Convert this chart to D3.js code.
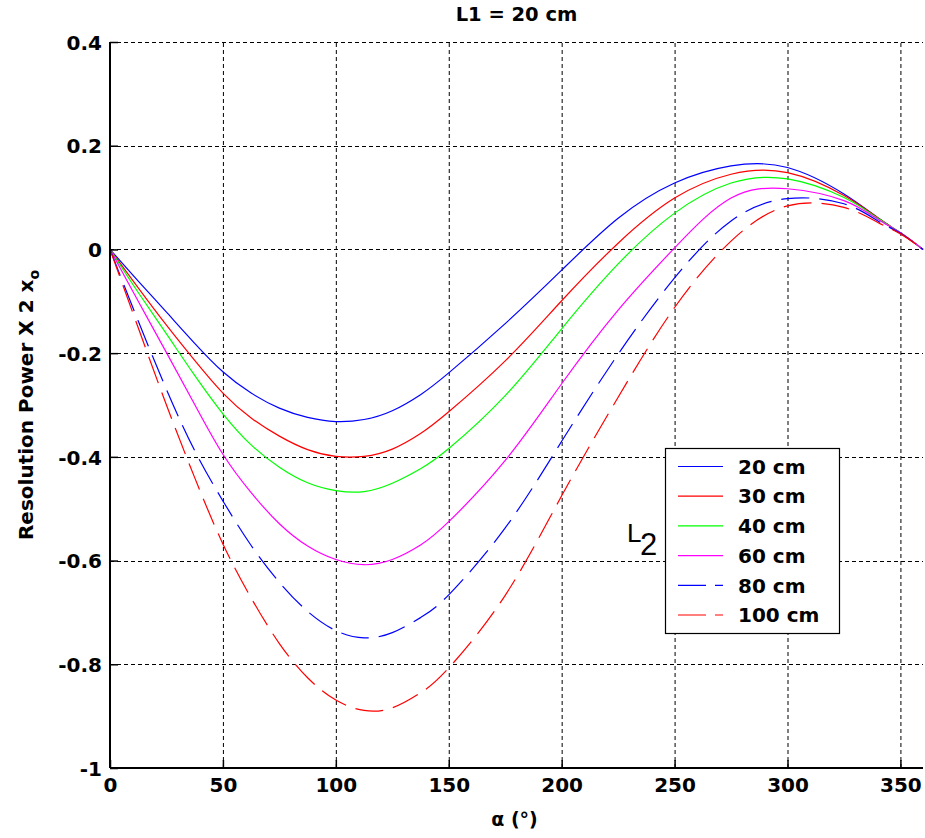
<!DOCTYPE html>
<html>
<head>
<meta charset="utf-8">
<script src="https://cdn.jsdelivr.net/npm/d3@7"></script>
<style>
  html, body { margin: 0; padding: 0; background: #fff; }
  svg { display: block; }
  text { font-family: "DejaVu Sans", "Liberation Sans", sans-serif; font-weight: bold; fill: #000; }
</style>
</head>
<body>
<svg id="chart" width="925" height="838"></svg>
<script>
// Angle samples (degrees) and resolution power for each L2 length
const alphaDeg = [0, 12.5, 25, 37.5, 50, 62.5, 75, 87.5, 100, 112.5, 125, 137.5, 150, 175, 200, 225, 250, 275, 300, 325, 340, 350, 360];
const res20cm  = [0, -0.061, -0.121, -0.181, -0.236, -0.277, -0.306, -0.324, -0.332, -0.328, -0.311, -0.280, -0.238, -0.143, -0.040, 0.060, 0.128, 0.161, 0.158, 0.107, 0.061, 0.032, 0];
const res30cm  = [0, -0.074, -0.146, -0.214, -0.277, -0.325, -0.360, -0.386, -0.399, -0.399, -0.385, -0.355, -0.313, -0.215, -0.099, 0.012, 0.099, 0.145, 0.148, 0.104, 0.061, 0.032, 0];
const res40cm  = [0, -0.083, -0.163, -0.243, -0.317, -0.377, -0.420, -0.450, -0.465, -0.467, -0.451, -0.423, -0.384, -0.282, -0.153, -0.028, 0.070, 0.128, 0.136, 0.100, 0.060, 0.032, 0];
const res60cm  = [0, -0.100, -0.199, -0.299, -0.395, -0.469, -0.529, -0.572, -0.598, -0.608, -0.598, -0.570, -0.525, -0.407, -0.259, -0.117, 0.003, 0.099, 0.117, 0.094, 0.058, 0.032, 0];
const res80cm  = [0, -0.138, -0.270, -0.388, -0.485, -0.571, -0.642, -0.698, -0.735, -0.749, -0.739, -0.710, -0.666, -0.537, -0.370, -0.202, -0.055, 0.055, 0.098, 0.088, 0.055, 0.031, 0];
const res100cm = [0, -0.151, -0.300, -0.440, -0.568, -0.672, -0.760, -0.826, -0.869, -0.889, -0.884, -0.855, -0.807, -0.667, -0.475, -0.285, -0.112, 0.016, 0.084, 0.081, 0.052, 0.030, 0];

const seriesLabels = ["20 cm", "30 cm", "40 cm", "60 cm", "80 cm", "100 cm"];
const seriesValues = [res20cm, res30cm, res40cm, res60cm, res80cm, res100cm];
const seriesColors = ["#0000ff", "#ff0000", "#00ff00", "#ff00ff", "#0000ff", "#ff0000"];
const seriesDashed = [false, false, false, false, true, true];

const xTicks = [0, 50, 100, 150, 200, 250, 300, 350];
const yTicks = [-1, -0.8, -0.6, -0.4, -0.2, 0, 0.2, 0.4];
const yTickLabels = ["-1", "-0.8", "-0.6", "-0.4", "-0.2", "0", "0.2", "0.4"];

const titleText = "L1 = 20 cm";
const xLabel = "\u03b1 (\u00b0)";

const svg = d3.select("#chart");
const plot = { left: 110, right: 923, top: 42, bottom: 768 };

const x = d3.scaleLinear().domain([0, 360]).range([plot.left, plot.right]);
const y = d3.scaleLinear().domain([-1, 0.4]).range([plot.bottom, plot.top]);

// dotted grid
const grid = svg.append("g").attr("stroke", "#000").attr("stroke-width", 1).attr("stroke-dasharray", "4,3");
grid.selectAll("line.gx").data(xTicks.filter(t => t > 0)).join("line")
  .attr("x1", d => x(d) + 0.5).attr("x2", d => x(d) + 0.5)
  .attr("y1", plot.bottom).attr("y2", plot.top);
grid.selectAll("line.gy").data(yTicks.filter(t => t > -1)).join("line")
  .attr("y1", d => Math.round(y(d)) + 0.5).attr("y2", d => Math.round(y(d)) + 0.5)
  .attr("x1", plot.left).attr("x2", plot.right);

// curves
const line = d3.line()
  .x(d => x(d[0]))
  .y(d => y(d[1]))
  .curve(d3.curveNatural);

seriesValues.forEach((vals, i) => {
  const pts = alphaDeg.map((a, j) => [a, vals[j]]);
  svg.append("path")
    .datum(pts)
    .attr("fill", "none")
    .attr("stroke", seriesColors[i])
    .attr("stroke-width", 1.2)
    .attr("stroke-dasharray", seriesDashed[i] ? "28,10" : null)
    .attr("d", line);
});

// axes with inward ticks
const xAxis = d3.axisBottom(x).tickValues(xTicks).tickSizeInner(-8).tickSizeOuter(0).tickFormat(d3.format("d"));
const yAxis = d3.axisLeft(y).tickValues(yTicks).tickSizeInner(-8).tickSizeOuter(0)
  .tickFormat((d, i) => yTickLabels[i]);

const gx = svg.append("g").attr("transform", `translate(0,${plot.bottom})`).call(xAxis);
const gy = svg.append("g").attr("transform", `translate(${plot.left},0)`).call(yAxis);
[gx, gy].forEach(g => {
  g.select(".domain").attr("stroke", "#000").attr("stroke-width", 2);
  g.selectAll(".tick line").attr("stroke", "#000").attr("stroke-width", 1.5);
  g.selectAll(".tick text").style("font-family", "DejaVu Sans").style("font-weight", "bold").style("font-size", "20px").attr("fill", "#000");
});
gx.select(".domain").attr("d", `M${plot.left},0H${plot.right}`);
gy.select(".domain").attr("d", `M0,${plot.bottom}V${plot.top}`);
gy.selectAll(".tick text").attr("x", -8).attr("dy", "0.36em");
gx.selectAll(".tick text").attr("y", 9).attr("dy", "0.73em");

// titles
svg.append("text").attr("x", (plot.left + plot.right) / 2).attr("y", 21)
  .attr("text-anchor", "middle").style("font-size", "19.5px").text(titleText);

svg.append("text").attr("x", (plot.left + plot.right) / 2 - 2).attr("y", 826)
  .attr("text-anchor", "middle").style("font-size", "19px").text(xLabel);

const yl = svg.append("text")
  .attr("transform", `translate(33,${(plot.top + plot.bottom) / 2}) rotate(-90)`)
  .attr("text-anchor", "middle").style("font-size", "20px");
yl.append("tspan").text("Resolution Power X 2 x");
yl.append("tspan").attr("dy", 6).style("font-size", "14px").text("o");

// L2 annotation
const ann = svg.append("g");
ann.append("text").attr("x", 627).attr("y", 542).style("font-size", "26px").style("font-weight", "normal").style("font-family", "Liberation Sans").text("L");
ann.append("text").attr("x", 640).attr("y", 555).style("font-size", "31px").style("font-weight", "normal").style("font-family", "Liberation Sans").text("2");

// legend
const legend = svg.append("g");
legend.append("rect").attr("x", 665.5).attr("y", 448.5).attr("width", 174).attr("height", 185)
  .attr("fill", "#fff").attr("stroke", "#000").attr("stroke-width", 1.2);
seriesLabels.forEach((lab, i) => {
  const cy = 466.5 + i * 29.7;
  legend.append("line").attr("x1", 678).attr("x2", 723).attr("y1", cy).attr("y2", cy)
    .attr("stroke", seriesColors[i]).attr("stroke-width", 1.2)
    .attr("stroke-dasharray", seriesDashed[i] ? "28,9" : null);
  legend.append("text").attr("x", 738).attr("y", cy).attr("dy", "0.36em")
    .style("font-size", "20px").text(lab);
});
</script>
</body>
</html>
